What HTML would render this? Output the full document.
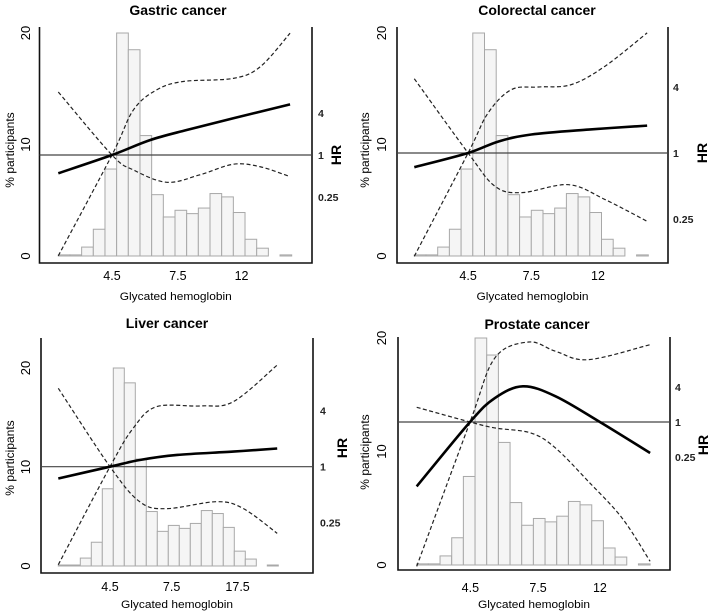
<!DOCTYPE html>
<html><head><meta charset="utf-8"><style>
body{margin:0;background:#fff;}
svg{display:block;font-family:"Liberation Sans",Arial,sans-serif;}
</style></head><body>
<svg id="c" width="709" height="614" viewBox="0 0 709 614"></svg>
<script>
const histPct=[0.1,0.1,0.8,2.4,7.8,20,18.5,10.8,5.5,3.5,4.1,3.8,4.3,5.6,5.3,3.9,1.5,0.7,0,0.1];
const yTicks=[0,10,20];
const hrTicks=[0.25,1,4];
const titles=["Gastric cancer","Colorectal cancer","Liver cancer","Prostate cancer"];
const xTickLabels=[["4.5","7.5","12"],["4.5","7.5","12"],["4.5","7.5","17.5"],["4.5","7.5","12"]];
const xTickBins=[[4.6,10.25,15.7],[4.6,10.0,15.7],[4.7,10.3,16.3],[4.6,10.4,15.7]];
// curves: x in bin units, y = log2(HR)
const curveX=[
 {s:[0,4.6,7.86,11,15,19.86],u:[0,4.6,6.43,8.43,10.7,15,17.3,19.86],l:[0,4.6,6.43,9.3,12.1,15,17.3,19.86]},
 {s:[0,4.6,7.2,10,14.9,19.9],u:[0,4.6,6.3,8.3,10.6,13.4,16.3,19.9],l:[0,4.6,6.9,9.2,13.2,16.3,19.9]},
 {s:[0,4.7,7.4,10.8,15.9,19.9],u:[0,4.7,6.8,8.9,12.9,15.9,19.9],l:[0,4.7,7.4,9.8,14.4,16.8,19.9]},
 {s:[0,4.57,6.7,9.1,11.9,15.7,20],u:[0,4.57,6.7,9.6,11.9,14.7,20],l:[0,4.57,6.7,9.8,11.9,14.7,17.6,20]}
];
const curveLogHR=[
 {s:[-0.87,0,0.71,1.19,1.75,2.41],u:[-4.8,0,2.14,3.1,3.5,3.65,4.2,5.8],l:[3.0,0,-0.71,-1.3,-0.95,-0.44,-0.56,-1.03]},
 {s:[-0.43,0,0.35,0.56,0.71,0.83],u:[-3.13,0,1.21,1.92,2.0,2.07,2.63,3.64],l:[2.25,0,-1.01,-1.2,-0.96,-1.41,-2.07]},
 {s:[-0.42,0,0.24,0.42,0.54,0.65],u:[-3.5,0,1.37,2.14,2.17,2.32,3.63],l:[2.8,0,-1.25,-1.5,-1.25,-1.49,-2.38]},
 {s:[-3.68,0,1.37,2.04,1.47,0,-1.77],u:[-8.25,0,3.66,4.57,4.04,3.56,4.42],l:[0.84,0,-0.34,-0.63,-1.49,-3.39,-5.49,-7.96]}
];
// layout geometry per panel
const G=[
 {tx:178,ty:10,L:39.5,R:312,T:27,B:263,y0:256,y20:33,bx:58.3,bw:11.67,hr1:155,hs:21,tky:276,xly:296,ylx:10,ylc:150,ytx:30,hrx:318,hrtx:336,hrty:155},
 {tx:537,ty:10,L:397,R:668,T:27,B:263,y0:256,y20:33,bx:414.3,bw:11.7,hr1:153,hs:33,tky:276,xly:296,ylx:365,ylc:150,ytx:386,hrx:673,hrtx:702,hrty:153},
 {tx:167,ty:323,L:41,R:313,T:338,B:573,y0:566,y20:368,bx:58.3,bw:11.0,hr1:466.7,hs:28,tky:587,xly:604,ylx:10,ylc:458,ytx:30,hrx:320,hrtx:342,hrty:448},
 {tx:537,ty:324,L:398,R:670,T:337,B:570,y0:565,y20:338,bx:416.7,bw:11.67,hr1:422,hs:17.5,tky:588,xly:604,ylx:365,ylc:452,ytx:386,hrx:675,hrtx:703,hrty:445}
];
const NS="http://www.w3.org/2000/svg";
const svg=document.getElementById('c');
function el(t,a,p){const e=document.createElementNS(NS,t);for(const k in a)e.setAttribute(k,a[k]);(p||svg).appendChild(e);return e;}
function catmull(pts){let d=`M${pts[0][0]},${pts[0][1]}`;for(let i=0;i<pts.length-1;i++){const p0=pts[i-1]||pts[i],p1=pts[i],p2=pts[i+1],p3=pts[i+2]||p2;const c1=[p1[0]+(p2[0]-p0[0])/6,p1[1]+(p2[1]-p0[1])/6],c2=[p2[0]-(p3[0]-p1[0])/6,p2[1]-(p3[1]-p1[1])/6];d+=` C${c1[0]},${c1[1]} ${c2[0]},${c2[1]} ${p2[0]},${p2[1]}`;}return d;}
G.forEach((g,pi)=>{
 const grp=el('g',{});
 
 
 const xs=b=>g.bx+b*g.bw;
 const ys=v=>g.y0+(g.y20-g.y0)*v/20;
 const hy=l=>g.hr1-l*g.hs;
 const t=el('text',{x:g.tx,y:g.ty+5,'text-anchor':'middle','font-size':14,'font-weight':'bold'},grp);t.textContent=titles[pi];
 
 histPct.forEach((v,i)=>{if(v<=0)return;const r=el('rect',{x:xs(i),y:ys(v),width:g.bw,height:g.y0-ys(v),fill:'#f5f5f5',stroke:'#a8a8a8','stroke-width':1},grp);
  });
 const ax=el('path',{d:`M${g.L},${g.T}V${g.B}H${g.R}V${g.T}`,fill:'none',stroke:'#111','stroke-width':1.6},grp);
 
 const ref=el('line',{x1:g.L,x2:g.R,y1:hy(0),y2:hy(0),stroke:'#444','stroke-width':1.2},grp);
 
 yTicks.forEach(v=>{const y=ys(v);const tx=el('text',{x:g.ytx,y:y,'text-anchor':'middle','font-size':13,transform:`rotate(-90 ${g.ytx} ${y})`},grp);tx.textContent=v;
  });
 hrTicks.forEach(v=>{const y=hy(Math.log2(v));const tx=el('text',{x:g.hrx,y:y+4,'font-size':10.5,'font-weight':'bold',fill:'#222'},grp);tx.textContent=v;
  });
 xTickLabels[pi].forEach((lab,i)=>{const x=xs(xTickBins[pi][i]);const tx=el('text',{x:x,y:g.tky+4,'text-anchor':'middle','font-size':12.5},grp);tx.textContent=lab;
  });
 const xl=el('text',{x:(g.L+g.R)/2,y:g.xly+4,'text-anchor':'middle','font-size':11,'textLength':112,'lengthAdjust':'spacingAndGlyphs'},grp);xl.textContent='Glycated hemoglobin';
 
 const yl=el('text',{x:g.ylx,y:g.ylc,'text-anchor':'middle','font-size':12,transform:`rotate(-90 ${g.ylx} ${g.ylc})`,dy:4},grp);yl.textContent='% participants';
 
 const hl=el('text',{x:g.hrtx,y:g.hrty,'text-anchor':'middle','font-size':14,'font-weight':'bold',transform:`rotate(-90 ${g.hrtx} ${g.hrty})`,dy:5},grp);hl.textContent='HR';
 
 ['u','l','s'].forEach(k=>{const pts=curveX[pi][k].map((x,i)=>[xs(x),hy(curveLogHR[pi][k][i])]);
  const p=el('path',{d:catmull(pts),fill:'none',stroke:k==='s'?'#000':'#222','stroke-width':k==='s'?2.6:1.2,'stroke-dasharray':k==='s'?'none':'4,2.5'},grp);
  
  });
});
</script>
</body></html>
